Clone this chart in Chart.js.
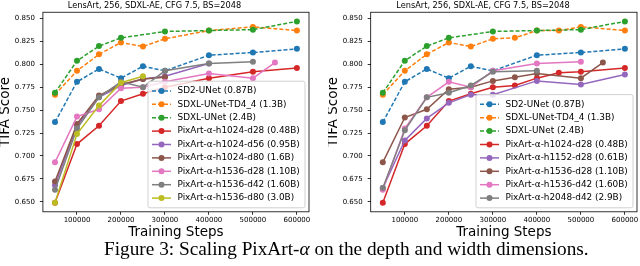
<!DOCTYPE html>
<html>
<head>
<meta charset="utf-8">
<script src="https://cdn.jsdelivr.net/npm/chart.js@4.4.1/dist/chart.umd.min.js"></script>
<style>
html, body { margin: 0; padding: 0; background: #fff; }
body { width: 640px; height: 266px; position: relative; overflow: hidden; }
.plot { position: absolute; top: 0; height: 240px; }
#leftBox { left: 0; width: 320px; }
#rightBox { left: 328px; width: 312px; }
#caption { position: absolute; left: 104px; top: 236px; line-height: 26px; white-space: nowrap;
  font-family: "Liberation Serif", "Times New Roman", serif; font-size: 19.3px; color: #000; }
</style>
</head>
<body>
<div class="plot" id="leftBox"><canvas id="left"></canvas></div>
<div class="plot" id="rightBox"><canvas id="right"></canvas></div>
<div id="caption">Figure 3: Scaling PixArt-<i>α</i> on the depth and width dimensions.</div>
<script>
// training steps, null = no evaluation at that step
var steps = [50000, 100000, 150000, 200000, 250000, 300000, 350000, 400000, 450000, 500000, 550000, 600000]
var xTicks = [100000, 200000, 300000, 400000, 500000, 600000]
var yTicks = [0.650, 0.675, 0.700, 0.725, 0.750, 0.775, 0.800, 0.825, 0.850]

var sd2Unet       = [0.737, 0.781, 0.795, 0.785, 0.798, 0.793, null, 0.810, null, 0.813, null, 0.817]
var sdxlTd44Left  = [0.767, 0.793, 0.811, 0.824, 0.8195, 0.828, null, 0.837, null, 0.841, null, 0.837]
var sdxlTd44Right = [0.767, 0.793, 0.811, 0.824, 0.8195, 0.828, 0.829, 0.837, 0.837, 0.841, null, 0.837]
var sdxlUnet      = [0.769, 0.804, 0.820, 0.829, null, 0.836, null, 0.837, null, 0.838, null, 0.847]

var h1024d28Left  = [0.649, 0.713, 0.733, 0.760, 0.768, 0.775, null, 0.785, null, 0.792, null, 0.796]
var h1024d28Right = [0.649, 0.713, 0.733, 0.760, 0.768, 0.775, 0.777, 0.785, 0.791, 0.792, null, 0.796]
var h1024d56      = [0.668, 0.733, 0.764, 0.777, 0.784, 0.787, null, 0.801, null, null, null, null]
var h1024d80      = [0.672, 0.735, 0.766, 0.778, 0.784, 0.786, null, null, null, null, null, null]
var h1536d28Left  = [0.693, 0.743, 0.751, 0.774, 0.775, 0.781, null, 0.790, null, 0.785, 0.802, null]
var h1536d28Right = [0.693, 0.742, 0.751, 0.773, 0.775, 0.782, 0.786, 0.790, null, 0.785, 0.802, null]
var h1536d42      = [0.663, 0.730, 0.764, 0.781, 0.775, 0.793, null, 0.801, null, 0.803, null, null]
var h1536d80      = [0.649, 0.724, 0.755, 0.780, 0.787, null, null, null, null, null, null, null]
var h1152d28      = [0.665, 0.717, 0.741, 0.758, 0.767, 0.767, null, 0.782, null, 0.778, null, 0.789]
var h2048d42      = [0.665, 0.728, 0.764, 0.769, 0.777, 0.792, null, 0.793, null, null, null, null]

var C = {
	blue: '#1f77b4', orange: '#ff7f0e', green: '#2ca02c', red: '#d62728', purple: '#9467bd',
	brown: '#8c564b', pink: '#e377c2', gray: '#7f7f7f', olive: '#bcbd22'
}
var FONT = '"DejaVu Sans", Verdana, sans-serif'

function series(label, values, color, dashed) {
	var pts = []
	values.forEach((v, i) => { if (v != null) pts.push({x: steps[i], y: v}) })
	return {
		label: label, data: pts,
		borderColor: color, backgroundColor: color,
		borderWidth: 1.5, borderDash: dashed ? [4, 2] : [],
		pointRadius: 3, pointHoverRadius: 3, pointBorderWidth: 0,
		tension: 0
	}
}

// axes frame + legend box in lower right, matplotlib style
var boxLegend = {
	id: 'boxLegend',
	afterDatasetsDraw(chart, args, opts) {
		var ctx = chart.ctx, a = chart.chartArea
		var sets = chart.data.datasets
		var rowH = 13.4, w = 157, h = sets.length * rowH + 6
		var x0 = a.right - 4 - w, y0 = a.bottom - 4 - h
		ctx.save()
		ctx.strokeStyle = '#000'
		ctx.lineWidth = 0.8
		ctx.strokeRect(a.left, a.top, a.right - a.left, a.bottom - a.top)

		ctx.fillStyle = 'rgba(255,255,255,0.8)'
		ctx.strokeStyle = '#d0d0d0'
		ctx.lineWidth = 1
		ctx.beginPath()
		ctx.roundRect(x0, y0, w, h, 2)
		ctx.fill()
		ctx.stroke()

		ctx.font = '8.9px ' + FONT
		ctx.textBaseline = 'middle'
		sets.forEach((ds, i) => {
			var y = y0 + 3 + rowH * (i + 0.5)
			ctx.strokeStyle = ds.borderColor
			ctx.lineWidth = 1.5
			ctx.setLineDash(ds.borderDash)
			ctx.beginPath()
			ctx.moveTo(x0 + 4, y)
			ctx.lineTo(x0 + 23, y)
			ctx.stroke()
			ctx.setLineDash([])
			ctx.fillStyle = ds.borderColor
			ctx.beginPath()
			ctx.arc(x0 + 13.5, y, 3, 0, Math.PI * 2)
			ctx.fill()
			ctx.fillStyle = '#000'
			ctx.fillText(ds.label, x0 + 29.5, y)
		})
		ctx.restore()
	}
}

function makeChart(id, datasets, padRight, yWidth) {
	datasets.forEach((ds, i) => { ds.order = datasets.length - i })
	return new Chart(document.getElementById(id), {
		type: 'line',
		data: {datasets: datasets},
		plugins: [boxLegend],
		options: {
			responsive: true,
			maintainAspectRatio: false,
			animation: false,
			layout: {padding: {left: 0, right: padRight, top: 0, bottom: 0}},
			plugins: {
				legend: {display: false},
				tooltip: {enabled: false},
				title: {
					display: true,
					text: 'LensArt, 256, SDXL-AE, CFG 7.5, BS=2048',
					color: '#000',
					font: {family: FONT, size: 8.2, weight: 'normal', lineHeight: 1.2},
					padding: {top: 0.5, bottom: 1.9}
				}
			},
			scales: {
				x: {
					type: 'linear', min: 22500, max: 627500,
					afterBuildTicks: s => { s.ticks = xTicks.map(v => ({value: v})) },
					afterFit: s => { s.height = 28.2 },
					grid: {drawOnChartArea: false, drawTicks: true, tickLength: 3, color: '#000', lineWidth: 0.8},
					border: {display: false},
					ticks: {color: '#000', font: {family: FONT, size: 7}, padding: 1.5, maxRotation: 0,
						callback: v => String(v)},
					title: {display: true, text: 'Training Steps', color: '#000',
						font: {family: FONT, size: 13.5, lineHeight: 1.15}, padding: {top: 0, bottom: 0}}
				},
				y: {
					min: 0.639, max: 0.857,
					afterBuildTicks: s => { s.ticks = yTicks.map(v => ({value: v})) },
					afterFit: s => { s.width = yWidth },
					grid: {drawOnChartArea: false, drawTicks: true, tickLength: 3, color: '#000', lineWidth: 0.8},
					border: {display: false},
					ticks: {color: '#000', font: {family: FONT, size: 7}, padding: 5,
						callback: v => v.toFixed(3)},
					title: {display: true, text: 'TIFA Score', color: '#000',
						font: {family: FONT, size: 13.5, lineHeight: 0.75}, padding: {top: 0, bottom: 0}}
				}
			}
		}
	})
}

makeChart('left', [
	series('SD2-UNet (0.87B)', sd2Unet, C.blue, true),
	series('SDXL-UNet-TD4_4 (1.3B)', sdxlTd44Left, C.orange, true),
	series('SDXL-UNet (2.4B)', sdxlUnet, C.green, true),
	series('PixArt-α-h1024-d28 (0.48B)', h1024d28Left, C.red, false),
	series('PixArt-α-h1024-d56 (0.95B)', h1024d56, C.purple, false),
	series('PixArt-α-h1024-d80 (1.6B)', h1024d80, C.brown, false),
	series('PixArt-α-h1536-d28 (1.10B)', h1536d28Left, C.pink, false),
	series('PixArt-α-h1536-d42 (1.60B)', h1536d42, C.gray, false),
	series('PixArt-α-h1536-d80 (3.0B)', h1536d80, C.olive, false)
], 11, 42.9)

makeChart('right', [
	series('SD2-UNet (0.87B)', sd2Unet, C.blue, true),
	series('SDXL-UNet-TD4_4 (1.3B)', sdxlTd44Right, C.orange, true),
	series('SDXL-UNet (2.4B)', sdxlUnet, C.green, true),
	series('PixArt-α-h1024-d28 (0.48B)', h1024d28Right, C.red, false),
	series('PixArt-α-h1152-d28 (0.61B)', h1152d28, C.purple, false),
	series('PixArt-α-h1536-d28 (1.10B)', h1536d28Right, C.brown, false),
	series('PixArt-α-h1536-d42 (1.60B)', h1536d42, C.pink, false),
	series('PixArt-α-h2048-d42 (2.9B)', h2048d42, C.gray, false)
], 2, 42.7)
</script>
</body>
</html>
